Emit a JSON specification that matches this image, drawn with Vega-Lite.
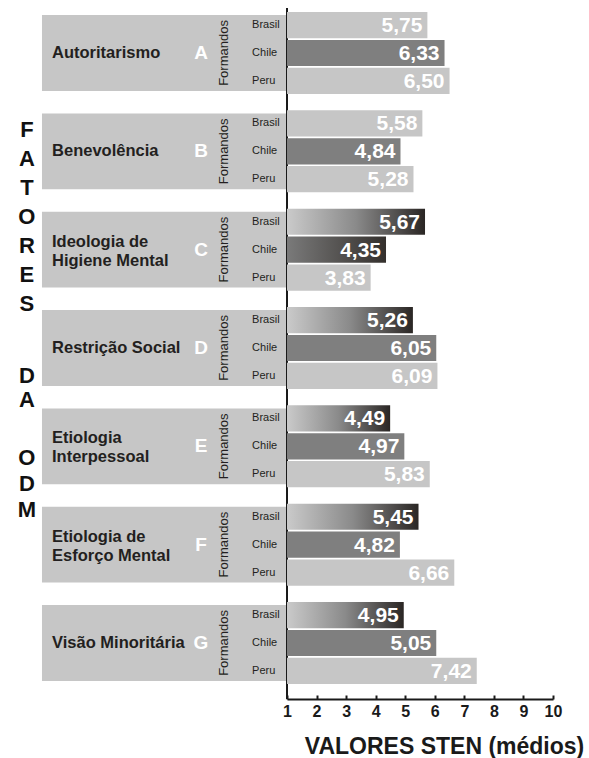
{
  "$schema": "https://vega.github.io/schema/vega-lite/v6.json",
  "width": 589,
  "height": 691,
  "autosize": {"type": "none"},
  "padding": {"left": 0, "right": 0, "top": 8, "bottom": 59},
  "background": "white",
  "config": {
    "view": {"stroke": null},
    "font": "Liberation Sans",
    "axisX": {
      "grid": false,
      "domainColor": "#1a1a1a", "domainWidth": 2,
      "tickColor": "#1a1a1a", "tickWidth": 2, "tickSize": -4,
      "labelPadding": 8,
      "labelFont": "Liberation Sans", "labelFontWeight": "bold", "labelFontSize": 16, "labelColor": "#1a1a1a",
      "labelFlush": false, "labelOverlap": false, "labelBaseline": "top",
      "titleFont": "Liberation Sans", "titleFontSize": 23, "titleFontWeight": "bold", "titleColor": "#1a1a1a",
      "titleX": 444, "titleY": 54, "titleBaseline": "alphabetic", "titleAlign": "center"
    }
  },
  "datasets": {
    "barras": [
      {"grupo": "A", "pais": "Brasil", "valor": 5.75, "rotulo": "5,75"},
      {"grupo": "A", "pais": "Chile", "valor": 6.33, "rotulo": "6,33"},
      {"grupo": "A", "pais": "Peru", "valor": 6.50, "rotulo": "6,50"},
      {"grupo": "B", "pais": "Brasil", "valor": 5.58, "rotulo": "5,58"},
      {"grupo": "B", "pais": "Chile", "valor": 4.84, "rotulo": "4,84"},
      {"grupo": "B", "pais": "Peru", "valor": 5.28, "rotulo": "5,28"},
      {"grupo": "C", "pais": "Brasil", "valor": 5.67, "rotulo": "5,67"},
      {"grupo": "C", "pais": "Chile", "valor": 4.35, "rotulo": "4,35"},
      {"grupo": "C", "pais": "Peru", "valor": 3.83, "rotulo": "3,83"},
      {"grupo": "D", "pais": "Brasil", "valor": 5.26, "rotulo": "5,26"},
      {"grupo": "D", "pais": "Chile", "valor": 6.05, "rotulo": "6,05"},
      {"grupo": "D", "pais": "Peru", "valor": 6.09, "rotulo": "6,09"},
      {"grupo": "E", "pais": "Brasil", "valor": 4.49, "rotulo": "4,49"},
      {"grupo": "E", "pais": "Chile", "valor": 4.97, "rotulo": "4,97"},
      {"grupo": "E", "pais": "Peru", "valor": 5.83, "rotulo": "5,83"},
      {"grupo": "F", "pais": "Brasil", "valor": 5.45, "rotulo": "5,45"},
      {"grupo": "F", "pais": "Chile", "valor": 4.82, "rotulo": "4,82"},
      {"grupo": "F", "pais": "Peru", "valor": 6.66, "rotulo": "6,66"},
      {"grupo": "G", "pais": "Brasil", "valor": 4.95, "rotulo": "4,95"},
      {"grupo": "G", "pais": "Chile", "valor": 6.05, "rotulo": "5,05"},
      {"grupo": "G", "pais": "Peru", "valor": 7.42, "rotulo": "7,42"}
    ],
    "grupos": [
      {"grupo": "A", "nome": "Autoritarismo", "linhas": 1},
      {"grupo": "B", "nome": "Benevolência", "linhas": 1},
      {"grupo": "C", "nome": "Ideologia de\nHigiene Mental", "linhas": 2},
      {"grupo": "D", "nome": "Restrição Social", "linhas": 1},
      {"grupo": "E", "nome": "Etiologia\nInterpessoal", "linhas": 2},
      {"grupo": "F", "nome": "Etiologia de\nEsforço Mental", "linhas": 2},
      {"grupo": "G", "nome": "Visão Minoritária", "linhas": 1}
    ]
  },
  "data": {"name": "barras"},
  "layer": [
    {
      "data": {"name": "grupos"},
      "mark": {"type": "bar", "color": "#c6c6c6", "height": {"band": 0.925}},
      "encoding": {
        "y": {"field": "grupo", "type": "nominal", "axis": null, "scale": {"domain": ["A","B","C","D","E","F","G"], "paddingInner": 0.166, "paddingOuter": 0.0966, "align": 0.21}},
        "x": {"datum": -7.29, "type": "quantitative", "scale": {"domain": [1, 10], "range": [287, 553], "zero": false, "nice": false}, "axis": {"values": [1,2,3,4,5,6,7,8,9,10], "title": "VALORES STEN (médios)"}},
        "x2": {"datum": 1}
      }
    },
    {
      "data": {"values": [{}]},
      "mark": {"type": "rule", "color": "#1a1a1a", "strokeWidth": 2},
      "encoding": {
        "x": {"datum": 1, "type": "quantitative", "axis": {"values": [1,2,3,4,5,6,7,8,9,10], "title": "VALORES STEN (médios)"}}
      }
    },
    {
      "transform": [{"filter": "!(datum.pais == 'Brasil' && indexof(['C','D','E','F','G'], datum.grupo) >= 0) && !(datum.pais == 'Chile' && datum.grupo == 'C')"}],
      "mark": {"type": "bar"},
      "encoding": {
        "y": {"field": "grupo", "type": "nominal", "axis": null},
        "yOffset": {"field": "pais", "type": "nominal", "scale": {"domain": ["Brasil","Chile","Peru"], "paddingInner": 0.06, "paddingOuter": 0}},
        "x": {"field": "valor", "type": "quantitative", "axis": {"values": [1,2,3,4,5,6,7,8,9,10], "title": "VALORES STEN (médios)"}},
        "x2": {"datum": 1},
        "color": {"field": "pais", "type": "nominal", "legend": null, "scale": {"domain": ["Brasil","Chile","Peru"], "range": ["#c6c6c6", "#7f7f7f", "#c6c6c6"]}}
      }
    },
    {
      "transform": [{"filter": "datum.pais == 'Brasil' && indexof(['C','D','E','F','G'], datum.grupo) >= 0"}],
      "mark": {"type": "bar", "color": {"gradient": "linear", "x1": 0, "y1": 0, "x2": 1, "y2": 0, "stops": [{"offset": 0, "color": "#cacaca"}, {"offset": 0.5, "color": "#8a8a8a"}, {"offset": 1, "color": "#2a2624"}]}},
      "encoding": {
        "y": {"field": "grupo", "type": "nominal", "axis": null},
        "yOffset": {"field": "pais", "type": "nominal"},
        "x": {"field": "valor", "type": "quantitative", "axis": {"values": [1,2,3,4,5,6,7,8,9,10], "title": "VALORES STEN (médios)"}},
        "x2": {"datum": 1}
      }
    },
    {
      "transform": [{"filter": "datum.pais == 'Chile' && datum.grupo == 'C'"}],
      "mark": {"type": "bar", "color": {"gradient": "linear", "x1": 0, "y1": 0, "x2": 1, "y2": 0, "stops": [{"offset": 0, "color": "#7a7a7a"}, {"offset": 1, "color": "#34302d"}]}},
      "encoding": {
        "y": {"field": "grupo", "type": "nominal", "axis": null},
        "yOffset": {"field": "pais", "type": "nominal"},
        "x": {"field": "valor", "type": "quantitative", "axis": {"values": [1,2,3,4,5,6,7,8,9,10], "title": "VALORES STEN (médios)"}},
        "x2": {"datum": 1}
      }
    },
    {
      "mark": {"type": "text", "align": "right", "baseline": "middle", "dx": -5, "dy": 1, "color": "white", "font": "Liberation Sans", "fontWeight": "bold", "fontSize": 21},
      "encoding": {
        "y": {"field": "grupo", "type": "nominal", "axis": null},
        "yOffset": {"field": "pais", "type": "nominal"},
        "x": {"field": "valor", "type": "quantitative", "axis": {"values": [1,2,3,4,5,6,7,8,9,10], "title": "VALORES STEN (médios)"}},
        "text": {"field": "rotulo"}
      }
    },
    {
      "mark": {"type": "text", "align": "left", "baseline": "middle", "color": "#231f20", "font": "Liberation Sans", "fontSize": 11},
      "encoding": {
        "y": {"field": "grupo", "type": "nominal", "axis": null},
        "yOffset": {"field": "pais", "type": "nominal"},
        "x": {"datum": -0.18, "type": "quantitative", "axis": {"values": [1,2,3,4,5,6,7,8,9,10], "title": "VALORES STEN (médios)"}},
        "text": {"field": "pais"}
      }
    },
    {
      "data": {"name": "grupos"},
      "transform": [{"filter": "datum.linhas == 1"}],
      "mark": {"type": "text", "align": "left", "baseline": "middle", "color": "#231f20", "font": "Liberation Sans", "fontWeight": "bold", "fontSize": 16.5},
      "encoding": {
        "y": {"field": "grupo", "type": "nominal", "axis": null},
        "x": {"datum": -6.95, "type": "quantitative", "axis": {"values": [1,2,3,4,5,6,7,8,9,10], "title": "VALORES STEN (médios)"}},
        "text": {"field": "nome"}
      }
    },
    {
      "data": {"name": "grupos"},
      "transform": [{"filter": "datum.linhas == 2"}],
      "mark": {"type": "text", "align": "left", "baseline": "middle", "color": "#231f20", "font": "Liberation Sans", "fontWeight": "bold", "fontSize": 16.5, "lineBreak": "\n", "lineHeight": 19, "dy": -8},
      "encoding": {
        "y": {"field": "grupo", "type": "nominal", "axis": null},
        "x": {"datum": -6.95, "type": "quantitative", "axis": {"values": [1,2,3,4,5,6,7,8,9,10], "title": "VALORES STEN (médios)"}},
        "text": {"field": "nome"}
      }
    },
    {
      "data": {"name": "grupos"},
      "mark": {"type": "text", "align": "center", "baseline": "middle", "color": "white", "font": "Liberation Sans", "fontWeight": "bold", "fontSize": 19},
      "encoding": {
        "y": {"field": "grupo", "type": "nominal", "axis": null},
        "x": {"datum": -1.91, "type": "quantitative", "axis": {"values": [1,2,3,4,5,6,7,8,9,10], "title": "VALORES STEN (médios)"}},
        "text": {"field": "grupo"}
      }
    },
    {
      "data": {"name": "grupos"},
      "mark": {"type": "text", "align": "center", "baseline": "middle", "angle": 270, "color": "#231f20", "font": "Liberation Sans", "fontSize": 13},
      "encoding": {
        "y": {"field": "grupo", "type": "nominal", "axis": null},
        "x": {"datum": -1.13, "type": "quantitative", "axis": {"values": [1,2,3,4,5,6,7,8,9,10], "title": "VALORES STEN (médios)"}},
        "text": {"value": "Formandos"}
      }
    },
    {
      "data": {"values": [{}]},
      "mark": {"type": "text", "align": "center", "baseline": "middle", "color": "#111111", "font": "Liberation Sans", "fontWeight": "bold", "fontSize": 22, "lineBreak": "\n", "lineHeight": 29, "dy": -120},
      "encoding": {
        "y": {"datum": "C", "type": "nominal", "axis": null},
        "x": {"datum": -7.8, "type": "quantitative", "axis": {"values": [1,2,3,4,5,6,7,8,9,10], "title": "VALORES STEN (médios)"}},
        "text": {"value": "F\nA\nT\nO\nR\nE\nS"}
      }
    },
    {
      "data": {"values": [{}]},
      "mark": {"type": "text", "align": "center", "baseline": "middle", "color": "#111111", "font": "Liberation Sans", "fontWeight": "bold", "fontSize": 22, "lineBreak": "\n", "lineHeight": 24, "dy": 28},
      "encoding": {
        "y": {"datum": "D", "type": "nominal", "axis": null},
        "x": {"datum": -7.8, "type": "quantitative", "axis": {"values": [1,2,3,4,5,6,7,8,9,10], "title": "VALORES STEN (médios)"}},
        "text": {"value": "D\nA"}
      }
    },
    {
      "data": {"values": [{}]},
      "mark": {"type": "text", "align": "center", "baseline": "middle", "color": "#111111", "font": "Liberation Sans", "fontWeight": "bold", "fontSize": 22, "lineBreak": "\n", "lineHeight": 26, "dy": 12},
      "encoding": {
        "y": {"datum": "E", "type": "nominal", "axis": null},
        "x": {"datum": -7.8, "type": "quantitative", "axis": {"values": [1,2,3,4,5,6,7,8,9,10], "title": "VALORES STEN (médios)"}},
        "text": {"value": "O\nD\nM"}
      }
    }
  ]
}
